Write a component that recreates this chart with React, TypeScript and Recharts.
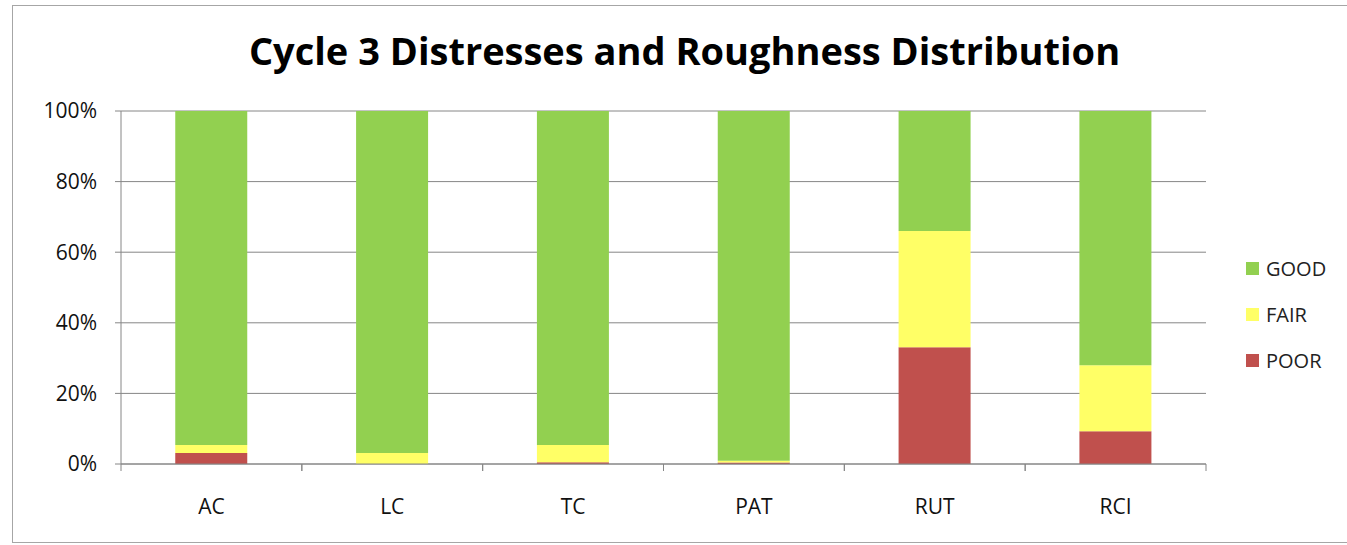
import { BarChart, Bar, XAxis, YAxis, CartesianGrid, Legend } from 'recharts';

const categories = ['AC', 'LC', 'TC', 'PAT', 'RUT', 'RCI'];
const poor = [3.1, 0, 0.5, 0.4, 33.1, 9.3];
const fair = [2.3, 3.1, 4.9, 0.5, 32.9, 18.7];
const good = [94.6, 96.9, 94.6, 99.1, 34.0, 72.0];
const yTicks = [0, 20, 40, 60, 80, 100];

const series = [
  { key: 'POOR', color: '#C0504D' },
  { key: 'FAIR', color: '#FFFF66' },
  { key: 'GOOD', color: '#92D050' },
];

const data = categories.map((name, i) => ({
  name,
  POOR: poor[i],
  FAIR: fair[i],
  GOOD: good[i],
}));

const FONT = '"Open Sans", sans-serif';

// category label plus the tick marks on the category edges
const CategoryTick = (props: any) => {
  const { x, y, payload } = props;
  const half = payload.offset || 0;
  return (
    <g>
      <line x1={x - half} x2={x - half} y1={y} y2={y + 7} stroke="#868686" />
      <line x1={x + half} x2={x + half} y1={y} y2={y + 7} stroke="#868686" />
      <text x={x} y={y + 50} textAnchor="middle" fill="#111" fontSize={21} fontFamily={FONT}>
        {payload.value}
      </text>
    </g>
  );
};

const LegendBox = () => (
  <div style={{ fontFamily: FONT, fontSize: 20, color: '#222' }}>
    {[...series].reverse().map((s) => (
      <div key={s.key} style={{ display: 'flex', alignItems: 'center', height: 46 }}>
        <span style={{ width: 13, height: 13, background: s.color, marginRight: 7, display: 'inline-block' }} />
        {s.key}
      </div>
    ))}
  </div>
);

export default function App() {
  return (
    <div
      style={{
        position: 'absolute',
        left: 12,
        top: 5,
        width: 1338,
        height: 536,
        border: '1px solid #a6a6a6',
        background: '#fff',
      }}
    >
      <div
        style={{
          position: 'absolute',
          top: 18,
          left: 0,
          width: 1343,
          textAlign: 'center',
          fontFamily: FONT,
          fontWeight: 'bold',
          fontSize: 38,
          color: '#000',
        }}
      >
        Cycle 3 Distresses and Roughness Distribution
      </div>
      <BarChart
        width={1338}
        height={536}
        data={data}
        margin={{ top: 105, right: 145, bottom: 28, left: 48 }}
        barCategoryGap="30%"
      >
        <CartesianGrid vertical={false} stroke="#868686" />
        <XAxis
          dataKey="name"
          height={50}
          axisLine={{ stroke: '#868686' }}
          tickLine={false}
          tickSize={0}
          tickMargin={0}
          tick={<CategoryTick />}
        />
        <YAxis
          domain={[0, 100]}
          ticks={yTicks}
          width={60}
          axisLine={{ stroke: '#868686' }}
          tickLine={{ stroke: '#868686' }}
          tickSize={6}
          tickMargin={18}
          tickFormatter={(v) => `${v}%`}
          tick={{ fill: '#111', fontSize: 21, fontFamily: FONT }}
        />
        <Legend
          layout="vertical"
          align="center"
          verticalAlign="middle"
          content={<LegendBox />}
          wrapperStyle={{ position: 'absolute', left: 1233, top: 239, width: 100 }}
        />
        {series.map((s) => (
          <Bar key={s.key} dataKey={s.key} stackId="a" fill={s.color} isAnimationActive={false} />
        ))}
      </BarChart>
    </div>
  );
}
